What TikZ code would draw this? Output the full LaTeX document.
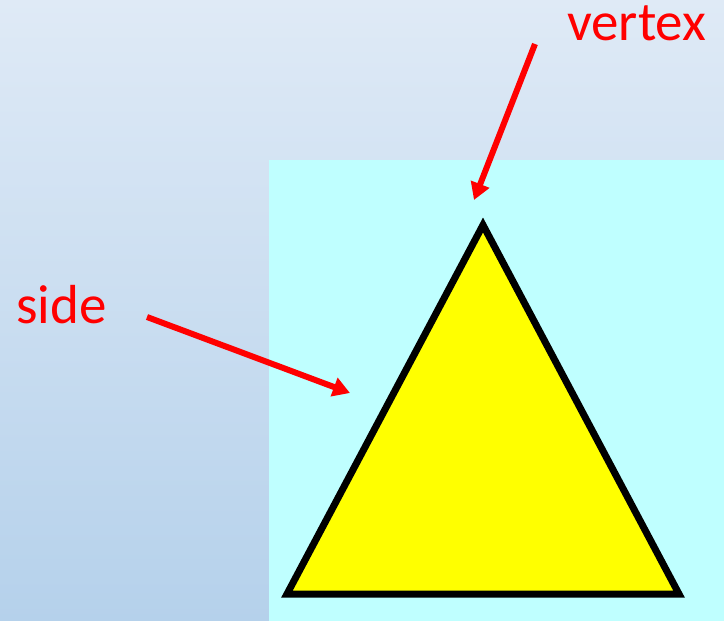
\documentclass[tikz,border=0pt]{standalone}
\usepackage{fontspec}
\setmainfont{Carlito}
\usetikzlibrary{arrows.meta}
\definecolor{skytop}{RGB}{223,234,246}
\definecolor{skybot}{RGB}{181,209,235}
\definecolor{aqua}{RGB}{191,255,255}
\definecolor{tri}{RGB}{255,255,0}
\definecolor{mark}{RGB}{255,0,0}
\tikzset{
  tagtext/.style={font=\fontsize{55}{60}\selectfont,text=mark,inner sep=0pt,anchor=base west},
  pointer/.style={-{Triangle[length=17pt,width=19pt]},line width=6pt,draw=mark},
  trishape/.style={draw=black,fill=tri,line width=7pt,line join=miter}
}
\begin{document}
\begin{tikzpicture}[x=1pt,y=-1pt]
  % backdrop
  \shade[top color=skytop,bottom color=skybot] (0,0) rectangle (724,621);
  \useasboundingbox (0,0) rectangle (724,621);
  \fill[aqua] (269,160) rectangle (724,621);

  % triangle
  \coordinate (apex) at (483,225);
  \coordinate (left) at (287,594);
  \coordinate (right) at (679,594);
  \draw[trishape] (apex) -- (left) -- (right) -- cycle;

  % labels
  \node[tagtext] (vertex) at (567,40) {vertex};
  \node[tagtext] (side) at (16,323) {side};

  \coordinate (vstart) at (535,44);
  \coordinate (vend) at (474,200);
  \coordinate (sstart) at (147,317);
  \coordinate (send) at (350,393);
  \draw[pointer] (vstart) -- (vend);
  \draw[pointer] (sstart) -- (send);
\end{tikzpicture}
\end{document}
